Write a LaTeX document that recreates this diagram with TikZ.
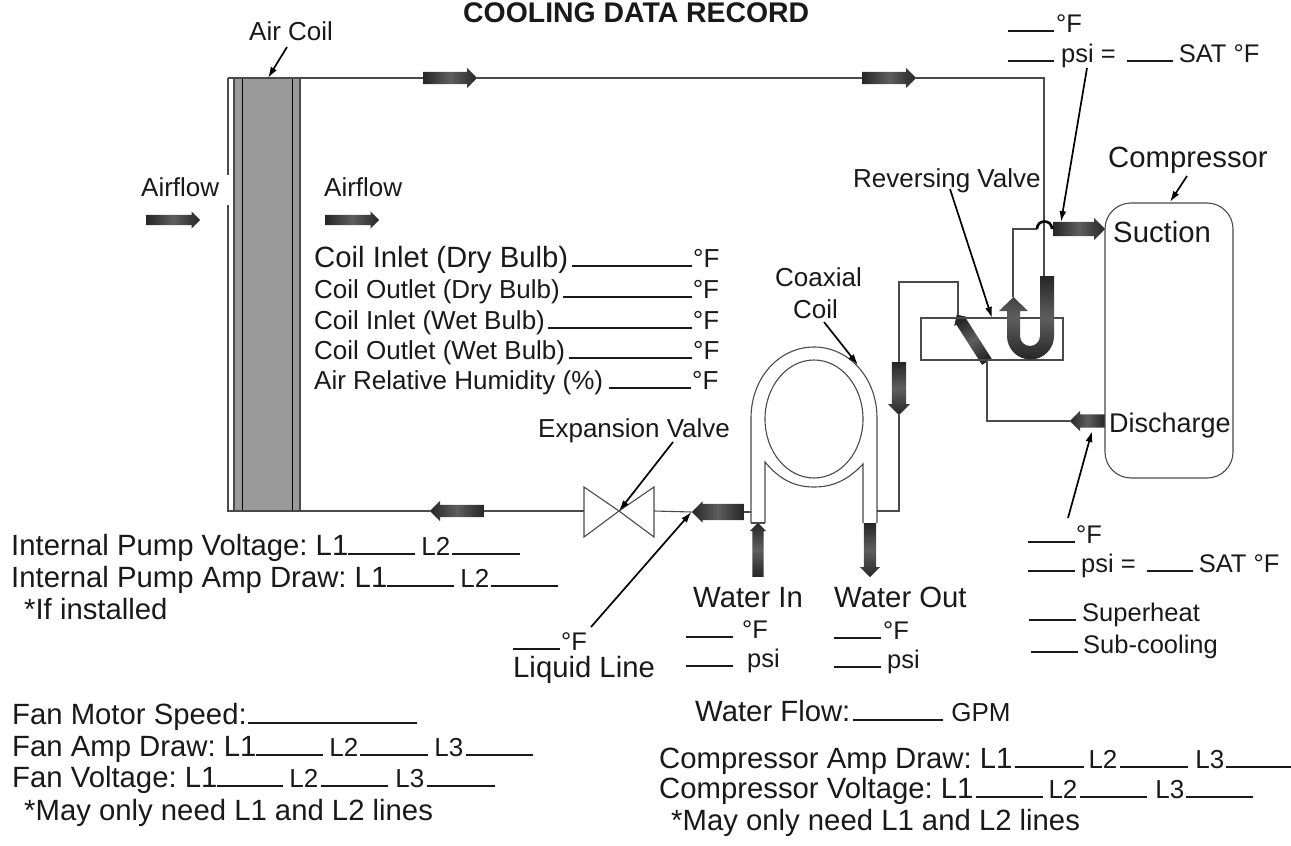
\documentclass[tikz,border=0pt]{standalone}
\usepackage{fontspec}
\setmainfont{Liberation Sans}
\usetikzlibrary{positioning,arrows.meta,shapes.arrows}
\newcommand{\blk}[1]{\rule{#1pt}{1.7pt}}
\newcommand{\gap}[1]{\hspace{#1pt}}
\newcommand{\sm}[1]{{\fontsize{26}{30}\selectfont #1}}
\definecolor{flowdark}{HTML}{262626}
\definecolor{flowmid}{HTML}{5E5E5E}
\definecolor{pipegray}{HTML}{4A4A4A}
\definecolor{coilgray}{HTML}{9A9A9A}
\frenchspacing
\begin{document}
\begin{tikzpicture}[
  x=1pt,y=-1pt,
  lbl/.style={anchor=base west,inner sep=0pt,text=black!90,font=\fontsize{26}{30}\selectfont},
  big/.style={lbl,font=\fontsize{29.3}{33}\selectfont},
  mid/.style={lbl,font=\fontsize{25.5}{29}\selectfont},
  pipe/.style={draw=pipegray,line width=1.1pt},
  boxed/.style={draw=pipegray,line width=1.1pt,inner sep=0pt},
  lead/.style={-{Latex[length=11pt,width=7pt]},line width=1.7pt,black},
  flowarr/.style n args={4}{single arrow,anchor=tail,inner xsep=0pt,inner ysep=#3/2,
    minimum height=#2,minimum width=#4,single arrow head extend=(#4-#3)/2,
    left color=flowdark,right color=flowdark,middle color=flowmid,
    rotate=#1,shading angle=90+#1}
]
\useasboundingbox (0,0) rectangle (1291,846);
\node[lbl,font=\fontsize{28.4}{32}\selectfont\bfseries] (title) at (463,22) {COOLING DATA RECORD};

\node[boxed,fill=coilgray,minimum width=66pt,minimum height=433pt] (coil) at (267,294.5) {};
\draw[black] (242,78) -- (242,511);
\draw[black] (292,78) -- (292,511);
\coordinate (coilnw) at (228,78);
\coordinate (coilgapa) at (228,175);
\coordinate (coilgapb) at (228,205);
\coordinate (coilsw) at (228,511);
\coordinate (coilhit) at (268,78);
\coordinate (coilne) at (1044,78);

\node[flowarr={0}{54}{12}{20}] (topa) at (423,78) {};
\node[flowarr={0}{54}{12}{20}] (topb) at (862,78) {};
\node[flowarr={0}{54}{10}{17}] (airin) at (146,220) {};
\node[flowarr={0}{54}{10}{17}] (airout) at (325,220) {};
\node[flowarr={0}{52}{14}{22}] (suct) at (1053,229) {};
\node[flowarr={180}{35}{13}{20}] (disch) at (1105,421) {};
\node[flowarr={-90}{53}{14}{22}] (dropa) at (899,362) {};
\node[flowarr={180}{54}{12}{20}] (lowa) at (484,511) {};
\node[flowarr={180}{52}{16}{21}] (lowb) at (744,512) {};
\node[flowarr={90}{54}{11}{16}] (wtin) at (758,577) {};
\node[flowarr={-90}{54}{12}{20}] (wtout) at (870,523) {};
\node[flowarr={122.6}{56}{11}{16}] (rvdiag) at (987,362) {};

\node[boxed,minimum width=142pt,minimum height=42pt] (rvbox) at (992,339) {};
\node[boxed,rounded corners=26pt,minimum width=128pt,minimum height=275pt] (comp) at (1169,340.5) {};
\coordinate (utop) at (1044,276);
\coordinate (uhead) at (1013,297);
\coordinate (hopa) at (1037,229);
\coordinate (hopb) at (1052,229);
\coordinate (sucbend) at (1013,229);
\coordinate (dropin) at (958,315);
\coordinate (dropbend) at (958,282);
\coordinate (dropcor) at (899,282);
\coordinate (coilout) at (877,511);
\coordinate (coilbend) at (899,511);
\coordinate (coilin) at (751,512);
\coordinate (rvout) at (987,421);
\coordinate (valve) at (619,511);
\coordinate (valvel) at (584,511);
\coordinate (valver) at (654,511);

\draw[pipe] (coilnw) -- (topa.tail);
\draw[pipe] (coilgapb) -- (coilsw) -- (lowa.tip);
\draw[pipe] (coilnw) -- (coilgapa);
\draw[pipe] (topa.tip) -- (topb.tail);
\draw[pipe] (topb.tip) -- (coilne) -- (utop);
\draw[pipe] (lowa.tail) -- (valvel);
\draw[pipe] (valver) -- (lowb.tip);
\draw[pipe] (lowb.tail) -- (coilin);
\draw[pipe] (uhead) -- (sucbend) -- (hopa);
\draw[line width=2.6pt,black] (hopa) .. controls (1037,219) and (1052,219) .. (hopb);
\draw[pipe] (dropa.tail) -- (dropcor) -- (dropbend) -- (dropin);
\draw[pipe] (dropa.tip) -- (coilbend) -- (coilout);
\draw[pipe] (rvdiag.tail) -- (rvout) -- (disch.tip);
\draw[pipe,fill=white] (valve) -- (584,487) -- (584,537) -- cycle;
\draw[pipe,fill=white] (valve) -- (654,487) -- (654,537) -- cycle;
\shade[top color=flowdark,bottom color=flowdark,middle color=flowmid]
  (1054,276) -- (1054,336) .. controls (1054,349) and (1043.5,359.5) .. (1030.5,359.5)
  .. controls (1017.5,359.5) and (1007,349) .. (1007,336) -- (1007,311) -- (999,311)
  -- (1013.5,297) -- (1028,311) -- (1020,311) -- (1020,336)
  .. controls (1020,341.5) and (1024.5,346) .. (1030,346)
  .. controls (1035.5,346) and (1040,341.5) .. (1040,336) -- (1040,276) -- cycle;

\draw[pipe] (751,523) -- (751,418) .. controls (751,378) and (779,347) .. (814,347)
  .. controls (849,347) and (877,378) .. (877,418) -- (877,523);
\draw[pipe] (814,419) ellipse [x radius=49,y radius=59];
\draw[pipe] (765,523) -- (765,462) .. controls (780,480) and (795,487) .. (814,487)
  .. controls (833,487) and (848,480) .. (863,464) -- (863,523);
\draw[pipe] (751,523) -- (765,523);

\node[lbl] (aircoil) at (249,40) {Air Coil};
\node[lbl] (airl) at (141,196) {Airflow};
\node[lbl] (airr) at (324,196) {Airflow};
\node[lbl] (rvlab) at (853,187) {Reversing Valve};
\node[big] (complab) at (1108,167) {Compressor};
\node[big] (suclab) at (1113,242) {Suction};
\node[lbl,font=\fontsize{27}{31}\selectfont] (dislab) at (1109,432) {Discharge};
\node[lbl] (coaxa) at (775,286) {Coaxial};
\node[lbl] (coaxb) at (793,318) {Coil};
\node[lbl] (explab) at (538,437) {Expansion Valve};

\node[mid] (topt) at (1008,32) {\blk{46}\gap{2}°F};
\node[mid] (topp) at (1008,62) {\blk{46}\gap{7}psi =\gap{11}\blk{46}\gap{6}SAT °F};
\node[mid] (dist) at (1028,543) {\blk{47}\gap{1}°F};
\node[mid] (disp) at (1028,572) {\blk{47}\gap{6}psi =\gap{11}\blk{46}\gap{6}SAT °F};
\node[lbl,font=\fontsize{25.5}{30}\selectfont] (shlab) at (1029,621) {\blk{47}\gap{6}Superheat};
\node[lbl,font=\fontsize{25.5}{30}\selectfont] (sclab) at (1031,653) {\blk{47}\gap{5}Sub-cooling};

\node[big] (cia) at (314,267) {Coil Inlet (Dry Bulb)\gap{4}\blk{120}\gap{1}\sm{°F}};
\node[lbl] (cib) at (314,298) {Coil Outlet (Dry Bulb)\gap{3}\blk{129}\gap{1}°F};
\node[lbl] (cic) at (314,329) {Coil Inlet (Wet Bulb)\gap{3}\blk{144}\gap{1}°F};
\node[lbl] (cid) at (314,359) {Coil Outlet (Wet Bulb)\gap{4}\blk{123}\gap{1}°F};
\node[lbl] (cie) at (314,389) {Air Relative Humidity (\%)\gap{6}\blk{82}\gap{1}°F};

\node[big] (pumpv) at (11,555) {Internal Pump Voltage: L1\blk{67}\gap{6}\sm{L2}\gap{2}\blk{68}};
\node[big] (pumpa) at (11,587) {Internal Pump Amp Draw: L1\blk{67}\gap{6}\sm{L2}\gap{2}\blk{67}};
\node[big] (pumpn) at (24,619) {*If installed};

\node[big] (wtina) at (693,607) {Water In};
\node[mid] (wtinb) at (686,638) {\blk{47}\gap{9}°F};
\node[mid] (wtinc) at (686,667) {\blk{47}\gap{14}psi};
\node[big] (wtouta) at (834,607) {Water Out};
\node[mid] (wtoutb) at (834,639) {\blk{47}\gap{2}°F};
\node[mid] (wtoutc) at (834,668) {\blk{47}\gap{6}psi};
\node[mid] (liqa) at (513,650) {\blk{47}\gap{1}°F};
\node[big] (liqb) at (513,677) {Liquid Line};

\node[big] (wflow) at (695,721) {Water Flow:\gap{3}\blk{90}\gap{8}\sm{GPM}};
\node[big] (fana) at (12,724) {Fan Motor Speed:\gap{1}\blk{169}};
\node[big] (fanb) at (12,756) {Fan Amp Draw: L1\blk{67}\gap{6}\sm{L2}\gap{2}\blk{68}\gap{6}\sm{L3}\gap{3}\blk{67}};
\node[big] (fanc) at (12,787) {Fan Voltage: L1\blk{66}\gap{6}\sm{L2}\gap{3}\blk{67}\gap{7}\sm{L3}\gap{3}\blk{68}};
\node[big] (fand) at (24,820) {*May only need L1 and L2 lines};
\node[big] (cpa) at (659,768) {Compressor Amp Draw: L1\gap{2}\blk{69}\gap{5}\sm{L2}\gap{3}\blk{68}\gap{7}\sm{L3}\gap{2}\blk{65}};
\node[big] (cpb) at (659,798) {Compressor Voltage: L1\gap{2}\blk{67}\gap{6}\sm{L2}\gap{3}\blk{67}\gap{8}\sm{L3}\gap{2}\blk{67}};
\node[big] (cpc) at (671,830) {*May only need L1 and L2 lines};

\coordinate (aircoilst) at (287,47);
\coordinate (comphit) at (1170,202);
\coordinate (compst) at (1187,176);
\coordinate (psist) at (1087,68);
\coordinate (psihit) at (1061,222);
\coordinate (rvst) at (950,189);
\coordinate (rvhit) at (992,318);
\coordinate (coaxst) at (824,322);
\coordinate (coaxhit) at (858,365);
\coordinate (expst) at (673,442);
\coordinate (disst) at (1068,518);
\coordinate (dishit) at (1092,431);
\coordinate (liqst) at (591,627);

\draw[lead] (aircoilst) -- (coilhit);
\draw[lead] (compst) -- (comphit);
\draw[lead] (psist) -- (psihit);
\draw[lead] (rvst) -- (rvhit);
\draw[lead] (coaxst) -- (coaxhit);
\draw[lead] (expst) -- (valve);
\draw[lead] (disst) -- (dishit);
\draw[lead] (liqst) -- (lowb.tip);
\end{tikzpicture}
\end{document}
